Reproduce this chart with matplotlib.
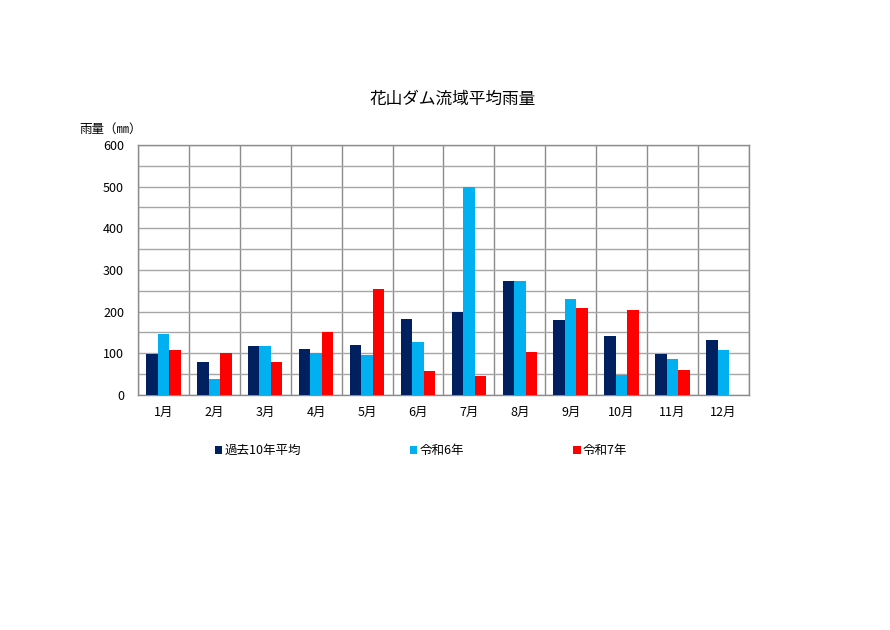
import matplotlib.pyplot as plt
import numpy as np
from matplotlib.patches import Patch

plt.rcParams['font.family'] = ['Noto Sans CJK JP', 'DejaVu Sans']

# -----------------------------
# Data
# -----------------------------
months = ['1月', '2月', '3月', '4月', '5月', '6月', '7月', '8月', '9月', '10月', '11月', '12月']
avg_10y = [98, 80, 117, 110, 119, 183, 200, 274, 180, 142, 98, 132]
reiwa6 = [146, 38, 118, 101, 95, 127, 499, 273, 231, 49, 86, 108]
reiwa7 = [108, 101, 78, 152, 254, 58, 45, 102, 208, 204, 59, np.nan]

series_names = ['過去10年平均', '令和6年', '令和7年']
colors = ['#002060', '#00B0F0', '#FF0000']

# -----------------------------
# Plot
# -----------------------------
fig = plt.figure(figsize=(8.9, 6.3), dpi=100)
ax = fig.add_axes([0.155, 0.373, 0.6865, 0.397])

x = np.arange(len(months))
w = 0.226
for i, (vals, c) in enumerate(zip([avg_10y, reiwa6, reiwa7], colors)):
    ax.bar(x + (i - 1) * w, vals, width=w, color=c, zorder=3)

ax.set_xlim(-0.5, len(months) - 0.5)
ax.set_ylim(0, 600)
ax.set_yticks(range(0, 601, 100))
ax.set_yticks(range(0, 601, 50), minor=True)
ax.set_xticks(x)
ax.set_xticklabels(months)
ax.set_xticks(np.arange(-0.5, len(months), 1), minor=True)

ax.grid(axis='y', which='both', color='#A6A6A6', linewidth=1.0, zorder=0)
ax.grid(axis='x', which='minor', color='#8C8C8C', linewidth=1.0, zorder=0)
ax.tick_params(which='both', length=0, labelsize=9, colors='black')
ax.tick_params(axis='x', pad=8)
ax.tick_params(axis='y', pad=10)
for s in ax.spines.values():
    s.set_color('#8C8C8C')
    s.set_linewidth(1.0)

fig.text(0.509, 0.842, '花山ダム流域平均雨量', ha='center', va='center', fontsize=12)
fig.text(0.089, 0.795, '雨量（㎜）', ha='left', va='center', fontsize=9)

handles = [Patch(facecolor=c, edgecolor='none') for c in colors]
fig.legend(handles, series_names, loc='center', bbox_to_anchor=(0.473, 0.285), ncol=3,
           frameon=False, fontsize=9, handlelength=0.6, handleheight=0.6,
           handletextpad=0.2, columnspacing=8.7)

fig.savefig('out.png', dpi=100, facecolor='white')
